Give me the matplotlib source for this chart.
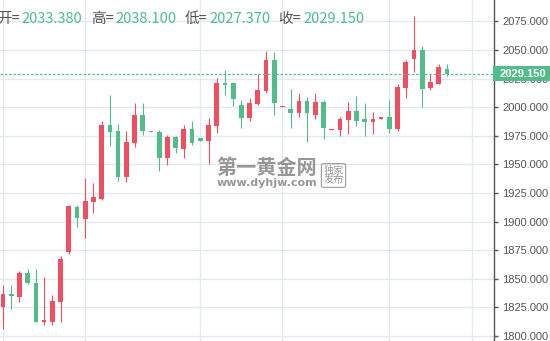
import numpy as np
import matplotlib
matplotlib.use("Agg")
import matplotlib.pyplot as plt
from matplotlib.patches import Rectangle
from matplotlib.ticker import FormatStrFormatter
import matplotlib.transforms as mtransforms

plt.rcParams['font.family'] = ['Noto Sans CJK SC', 'DejaVu Sans']

# ---------------- data ----------------
opens = [1825.6, 1836.7, 1834.4, 1855.1, 1846.3, 1812.5, 1812.5, 1830.0, 1873.7, 1912.8,
         1902.6, 1917.4, 1920.1, 1984.5, 1979.3, 1939.3, 1969.0, 1993.3, 1979.3, 1978.4,
         1955.9, 1974.0, 1963.8, 1981.0, 1973.2, 1970.8, 1983.9, 2021.3, 2021.3, 2002.0,
         1990.9, 2003.1, 2014.5, 2041.4, 2000.3, 1998.5, 1995.3, 2005.8, 1993.5, 2004.9,
         1980.4, 1980.4, 1989.2, 1997.0, 1990.0, 1987.4, 1990.0, 1991.8, 1981.3, 2017.1,
         2042.5, 2050.1, 2017.1, 2020.6, 2033.38]
closes = [1836.7, 1835.0, 1855.1, 1846.6, 1812.5, 1814.3, 1830.6, 1867.3, 1913.7, 1903.5,
          1918.1, 1921.6, 1984.5, 1978.7, 1939.3, 1969.7, 1993.3, 1979.5, 1978.4, 1955.9,
          1974.0, 1964.7, 1981.0, 1969.0, 1970.8, 1984.5, 2021.3, 2019.8, 2007.5, 1990.9,
          2003.8, 2015.1, 2041.4, 2004.0, 2001.1, 1995.3, 2005.8, 1995.3, 2004.9, 1982.2,
          1981.3, 1990.0, 1997.0, 1988.3, 1987.4, 1990.0, 1991.8, 1981.3, 2017.8, 2039.9,
          2050.1, 2016.3, 2022.1, 2035.2, 2029.15]
highs = [1844.6, 1844.6, 1856.8, 1858.6, 1858.6, 1851.6, 1835.8, 1870.0, 1914.6, 1914.6,
         1938.2, 1933.8, 1988.0, 2010.8, 1985.4, 1979.3, 2003.8, 2003.8, 1979.3, 1980.1,
         1975.8, 1974.9, 1984.5, 1988.0, 1973.2, 1990.6, 2025.4, 2032.6, 2022.1, 2006.4,
         2008.1, 2029.1, 2049.2, 2048.4, 2001.1, 2016.0, 2012.5, 2009.3, 2012.5, 2006.4,
         1981.3, 1991.8, 2004.9, 2010.1, 2004.0, 1996.2, 1991.8, 2006.6, 2020.6, 2041.1,
         2080.1, 2053.6, 2029.4, 2037.9, 2038.10]
lows = [1805.9, 1823.9, 1830.0, 1845.7, 1812.5, 1809.9, 1809.9, 1812.5, 1872.0, 1895.6,
        1886.0, 1907.8, 1919.2, 1966.4, 1935.8, 1934.9, 1965.5, 1976.0, 1978.4, 1944.6,
        1949.8, 1960.3, 1955.9, 1967.3, 1970.8, 1950.7, 1977.8, 2011.0, 2001.4, 1982.2,
        1988.3, 2002.3, 2012.2, 1993.5, 2000.3, 1982.2, 1991.8, 1969.9, 1990.0, 1972.5,
        1980.4, 1975.2, 1976.9, 1983.9, 1975.2, 1976.9, 1990.0, 1977.8, 1979.5, 2008.4,
        2031.1, 2000.5, 2015.4, 2020.6, 2027.37]
grid_positions = [0, 10, 24, 34, 47, 57]
y_ticks = [1800, 1825, 1850, 1875, 1900, 1925, 1950, 1975, 2000, 2025, 2050, 2075]
header_labels = ['开=', '高=', '低=', '收=']
header_values = [opens[-1], highs[-1], lows[-1], closes[-1]]

# ---------------- style ----------------
RED = '#EF4F60'
GREEN = '#52BC8A'
GRID = '#E2E9F0'
AXIS = '#555555'

W, H = 550, 341
fig = plt.figure(figsize=(W / 100, H / 100), dpi=100)
ax = fig.add_axes([0, 0, 494 / W, 1])

o = np.array(opens); c = np.array(closes)
hi = np.array(highs); lo = np.array(lows)
x = np.arange(len(o))
up = c >= o
cols = np.where(up, RED, GREEN)

ax.vlines(x, lo, hi, colors=cols, linewidth=0.8, zorder=3)
body_bottom = np.minimum(o, c)
body_h = np.maximum(np.abs(c - o), 0.9)
ax.bar(x, body_h, bottom=body_bottom, width=0.57, color=cols, linewidth=0, zorder=4)

step = 8.22
ax.set_xlim(-3 / step, 491 / step)
ax.set_ylim(1795.6, 2093.8)

ax.set_xticks(grid_positions)
ax.set_xticklabels([])
ax.tick_params(axis='x', length=0)
ax.set_yticks(y_ticks)
ax.yaxis.set_major_formatter(FormatStrFormatter('%.3f'))
ax.yaxis.tick_right()
ax.tick_params(axis='y', length=3, width=1, color=AXIS, labelcolor=AXIS,
               labelsize=8, pad=3)
for lab in ax.get_yticklabels():
    lab.set_fontfamily(['Liberation Sans', 'DejaVu Sans'])
ax.grid(True, color=GRID, linewidth=1, zorder=0)
ax.set_axisbelow(True)
for s in ['left', 'top', 'bottom']:
    ax.spines[s].set_visible(False)
ax.spines['right'].set_color(AXIS)
ax.spines['right'].set_linewidth(1)

# current price dashed line and label
last = closes[-1]
ax.axhline(last, color=GREEN, linewidth=0.9, linestyle=(0, (2, 1.5)), zorder=5)
trans = mtransforms.blended_transform_factory(ax.transAxes, ax.transData)
ppu = (H) / (2093.8 - 1795.6)
half = 7.5 / ppu
rect = Rectangle((1 - 1 / 494, last - half), 60 / 494, 2 * half, transform=trans,
                 facecolor=GREEN, edgecolor='none', clip_on=False, zorder=6)
ax.add_patch(rect)
ax.text(1 + 5.5 / 494, last, f'{last:.3f}', transform=trans, ha='left', va='center',
        color='white', fontsize=8, fontweight='bold',
        family=['Liberation Sans', 'DejaVu Sans'], zorder=7, clip_on=False)

# header
label_x = [-3, 91, 184.5, 278.5]
value_x = [21.7, 115.7, 209, 303]
base_y = 1 - 23 / H
for lx, vx, lab, val in zip(label_x, value_x, header_labels, header_values):
    fig.text(lx / W, base_y, lab, color='#555555', fontsize=10.5, va='baseline')
    fig.text(vx / W, base_y, f'{val:.3f}', color=GREEN, fontsize=10.5, va='baseline')

# watermark
fig.text(267 / W, 1 - 168 / H, '第一黄金网', color='#858585', fontsize=14.5,
         fontweight='bold', ha='center', va='center', alpha=0.85)
fig.text(267 / W, 1 - 183.5 / H, 'www.dyhjw.com', color='#858585', fontsize=8,
         fontweight='bold', ha='center', va='center', alpha=0.85,
         family=['DejaVu Sans'])
fig.text(333.5 / W, 1 - 175.5 / H, '独家\n发布', color='#858585', fontsize=7.3,
         ha='center', va='center', alpha=0.85, linespacing=0.95,
         bbox=dict(boxstyle='round,pad=0.2', fc='none', ec='#9a9a9a', lw=0.8))

fig.savefig('out.png', dpi=100)
